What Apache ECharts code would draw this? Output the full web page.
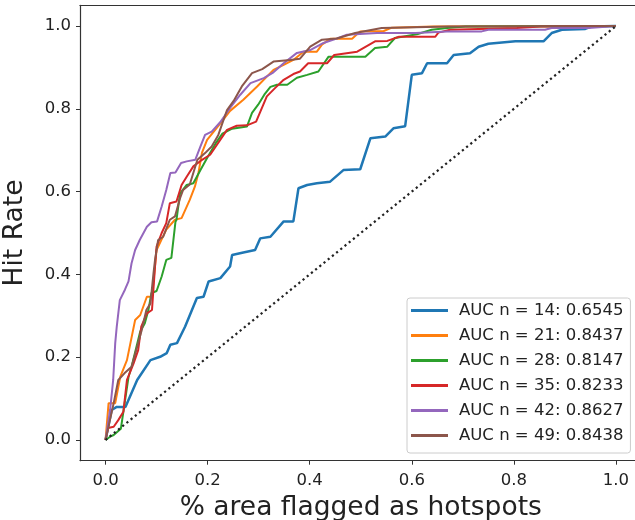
<!DOCTYPE html>
<html>
<head>
<meta charset="utf-8">
<script src="https://cdn.jsdelivr.net/npm/echarts@6/dist/echarts.min.js"></script>
<style>html,body{margin:0;padding:0;background:#fff;overflow:hidden;}#c{width:635px;height:520px;}</style>
</head>
<body>
<div id="c"></div>
<script>
// Tick labels
const tickValues = [0, 0.2, 0.4, 0.6, 0.8, 1.0];

// Series names
const seriesNames = [
  'AUC n = 14: 0.6545',
  'AUC n = 21: 0.8437',
  'AUC n = 28: 0.8147',
  'AUC n = 35: 0.8233',
  'AUC n = 42: 0.8627',
  'AUC n = 49: 0.8438'
];

// [% area flagged, hit rate]
const curveN14 = [[0,0],[0.012,0.0725],[0.022,0.080],[0.039,0.080],[0.062,0.145],[0.088,0.193],[0.107,0.201],[0.120,0.210],[0.127,0.230],[0.140,0.234],[0.156,0.274],[0.179,0.343],[0.192,0.346],[0.202,0.383],[0.225,0.391],[0.244,0.419],[0.248,0.447],[0.270,0.453],[0.293,0.459],[0.303,0.487],[0.323,0.491],[0.349,0.528],[0.368,0.528],[0.378,0.608],[0.395,0.616],[0.414,0.620],[0.440,0.624],[0.466,0.652],[0.499,0.654],[0.519,0.729],[0.548,0.733],[0.564,0.753],[0.587,0.758],[0.600,0.882],[0.620,0.886],[0.630,0.910],[0.669,0.910],[0.682,0.930],[0.714,0.934],[0.731,0.950],[0.750,0.957],[0.803,0.963],[0.858,0.963],[0.874,0.983],[0.894,0.991],[0.940,0.993],[0.953,0.999],[1,1]];

const curveN21 = [[0,0],[0.006,0.089],[0.019,0.089],[0.029,0.153],[0.042,0.193],[0.058,0.290],[0.068,0.302],[0.081,0.346],[0.091,0.346],[0.100,0.459],[0.119,0.508],[0.136,0.532],[0.149,0.536],[0.165,0.580],[0.175,0.612],[0.182,0.645],[0.189,0.694],[0.199,0.725],[0.212,0.745],[0.225,0.765],[0.244,0.795],[0.270,0.822],[0.297,0.854],[0.329,0.894],[0.349,0.906],[0.368,0.918],[0.388,0.938],[0.414,0.938],[0.424,0.955],[0.440,0.969],[0.483,0.969],[0.499,0.987],[0.545,0.988],[0.561,0.996],[0.642,0.999],[1,1]];

const curveN28 = [[0,0],[0.009,0.008],[0.016,0.012],[0.030,0.027],[0.037,0.085],[0.045,0.152],[0.051,0.177],[0.068,0.262],[0.077,0.282],[0.084,0.314],[0.090,0.355],[0.100,0.360],[0.110,0.395],[0.119,0.435],[0.129,0.440],[0.137,0.527],[0.139,0.532],[0.146,0.596],[0.159,0.616],[0.172,0.620],[0.186,0.652],[0.199,0.681],[0.216,0.717],[0.229,0.740],[0.248,0.752],[0.277,0.757],[0.287,0.790],[0.299,0.810],[0.311,0.834],[0.323,0.853],[0.336,0.858],[0.356,0.858],[0.375,0.875],[0.395,0.882],[0.417,0.890],[0.437,0.926],[0.466,0.926],[0.509,0.926],[0.528,0.947],[0.552,0.950],[0.567,0.971],[0.610,0.980],[0.639,0.991],[0.669,0.995],[0.705,0.999],[1,1]];

const curveN35 = [[0,0],[0.005,0.029],[0.016,0.032],[0.025,0.048],[0.035,0.068],[0.042,0.145],[0.055,0.185],[0.064,0.217],[0.070,0.274],[0.081,0.306],[0.091,0.314],[0.097,0.419],[0.100,0.467],[0.110,0.500],[0.119,0.524],[0.126,0.572],[0.139,0.576],[0.149,0.616],[0.159,0.636],[0.172,0.661],[0.186,0.674],[0.205,0.689],[0.238,0.749],[0.257,0.759],[0.277,0.760],[0.295,0.769],[0.316,0.830],[0.332,0.850],[0.349,0.870],[0.368,0.884],[0.381,0.890],[0.397,0.910],[0.434,0.910],[0.448,0.930],[0.493,0.938],[0.528,0.963],[0.552,0.964],[0.575,0.974],[0.646,0.974],[0.652,0.984],[0.675,0.991],[0.806,0.995],[0.852,0.999],[1,1]];

const curveN42 = [[0,0],[0.009,0.0725],[0.015,0.145],[0.019,0.234],[0.022,0.274],[0.028,0.338],[0.038,0.363],[0.045,0.383],[0.051,0.427],[0.058,0.459],[0.067,0.483],[0.081,0.515],[0.090,0.526],[0.101,0.528],[0.110,0.564],[0.119,0.604],[0.127,0.645],[0.137,0.646],[0.148,0.669],[0.159,0.673],[0.176,0.677],[0.186,0.709],[0.195,0.737],[0.208,0.745],[0.225,0.768],[0.244,0.802],[0.264,0.834],[0.284,0.862],[0.310,0.874],[0.329,0.888],[0.349,0.910],[0.375,0.935],[0.401,0.942],[0.427,0.959],[0.447,0.967],[0.473,0.979],[0.532,0.983],[0.607,0.983],[0.669,0.987],[0.737,0.987],[0.750,0.991],[0.861,0.991],[0.874,0.995],[0.946,0.995],[1,1]];

const curveN49 = [[0,0],[0.016,0.089],[0.025,0.145],[0.037,0.161],[0.051,0.177],[0.062,0.225],[0.071,0.266],[0.080,0.314],[0.088,0.330],[0.094,0.403],[0.097,0.435],[0.103,0.483],[0.113,0.491],[0.126,0.532],[0.136,0.540],[0.146,0.584],[0.152,0.604],[0.165,0.617],[0.180,0.677],[0.195,0.693],[0.208,0.709],[0.221,0.737],[0.238,0.797],[0.251,0.819],[0.267,0.854],[0.287,0.886],[0.307,0.896],[0.329,0.914],[0.362,0.918],[0.381,0.921],[0.401,0.950],[0.424,0.967],[0.453,0.970],[0.489,0.983],[0.541,0.995],[0.672,0.999],[1,1]];

const chanceLine = [[0,0],[1,1]];

const colors = ['#1f77b4','#ff7f0e','#2ca02c','#d62728','#9467bd','#8c564b'];
const curves = [curveN14, curveN21, curveN28, curveN35, curveN42, curveN49];

const FONT = 'DejaVu Sans';
const chart = echarts.init(document.getElementById('c'), null, {renderer: 'canvas'});

const series = [{
  type: 'line', name: 'chance', data: chanceLine, symbol: 'none',
  lineStyle: {color: '#222', width: 2.2, type: [2.2, 3.2]},
  z: 10, animation: false
}];
curves.forEach((c, i) => {
  series.push({
    type: 'line', name: seriesNames[i], data: c, symbol: 'none',
    lineStyle: {color: colors[i], width: i === 0 ? 2.5 : 2},
    itemStyle: {color: colors[i]},
    z: 2 + i, animation: false
  });
});

function spine() { return {show: true, onZero: false, lineStyle: {color: '#333', width: 1.2}}; }

chart.setOption({
  animation: false,
  grid: {left: 80, top: 5.3, width: 561.5, height: 455.4, containLabel: false, outerBoundsMode: 'none', show: false},
  xAxis: [
    {
      type: 'value', min: -0.05, max: 1.05, position: 'bottom',
      splitLine: {show: false},
      axisLine: spine(),
      axisTick: {show: true, inside: false, customValues: tickValues, length: 4, lineStyle: {color: '#333', width: 1}},
      axisLabel: {customValues: tickValues, formatter: v => v.toFixed(1), color: '#222', fontFamily: FONT, fontSize: 16.5, margin: 12},
      name: '% area flagged as hotspots', nameLocation: 'middle', nameGap: 31,
      nameTextStyle: {color: '#222', fontFamily: FONT, fontSize: 26.5}
    },
    {
      type: 'value', min: -0.05, max: 1.05, position: 'top',
      axisLine: spine(), axisTick: {show: false}, axisLabel: {show: false}, splitLine: {show: false}
    }
  ],
  yAxis: {
    type: 'value', min: -0.05, max: 1.05, position: 'left',
    splitLine: {show: false},
    axisLine: spine(),
    axisTick: {show: true, inside: false, customValues: tickValues, length: 4, lineStyle: {color: '#333', width: 1}},
    axisLabel: {customValues: tickValues, formatter: v => v.toFixed(1), color: '#222', fontFamily: FONT, fontSize: 16.5, margin: 9},
    name: 'Hit Rate', nameLocation: 'middle', nameGap: 51,
    nameTextStyle: {color: '#222', fontFamily: FONT, fontSize: 26.5}
  },
  legend: {
    data: seriesNames,
    orient: 'vertical', left: 407, top: 298,
    icon: 'rect',
    itemWidth: 37, itemHeight: 3, itemGap: 8,
    padding: [4, 7, 9, 4],
    backgroundColor: 'rgba(255,255,255,0.8)',
    borderColor: '#cccccc', borderWidth: 1, borderRadius: 3,
    textStyle: {color: '#222', fontFamily: FONT, fontSize: 16.5, lineHeight: 17, padding: [0, 0, 0, 6]}
  },
  graphic: [{
    type: 'rect', z: 100, silent: true,
    shape: {x: 632.5, y: 7, width: 10, height: 452.5},
    style: {fill: '#ffffff'}
  }],
  series: series
});
</script>
</body>
</html>
